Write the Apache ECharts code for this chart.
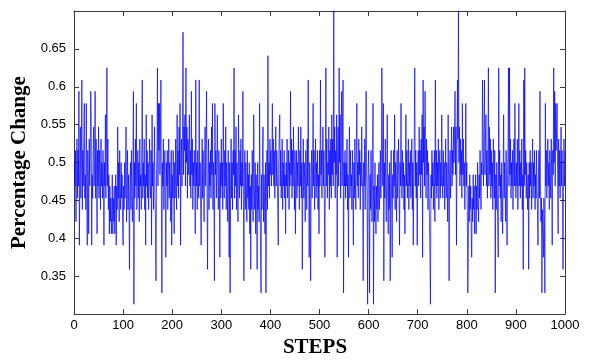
<!DOCTYPE html>
<html><head><meta charset="utf-8">
<script src="https://cdn.jsdelivr.net/npm/echarts@6/dist/echarts.min.js"></script>
<style>html,body{margin:0;padding:0;background:#fff}#c{width:589px;height:363px}</style>
</head><body><div id="c"></div>
<script>
const xAxisTitle = 'STEPS';
const yAxisTitle = 'Percentage Change';
const xTicks = [0,100,200,300,400,500,600,700,800,900,1000];
const yTicks = [0.35,0.4,0.45,0.5,0.55,0.6,0.65];
const percentageChange = [
.5,.469,.516,.422,.484,.531,.453,.516,.469,.594,.391,.484,.547,.453,.5,.609,.438,.516,.469,.531,.578,.453,.484,.438,.578,.469,.391,.516,.484,.406,.531,.469,.5,.594,.563,.391,.484,.453,.516,.547,.469,.5,.594,.453,.531,.484,.406,.516,.469,.547,
.453,.516,.484,.438,.531,.469,.5,.453,.516,.484,.391,.5,.469,.563,.453,.516,.625,.469,.531,.438,.484,.406,.469,.422,.453,.406,.438,.484,.406,.453,.422,.469,.406,.438,.484,.391,.469,.438,.547,.453,.5,.422,.516,.469,.438,.5,.453,.484,.422,.391,
.469,.438,.5,.453,.484,.547,.422,.469,.516,.438,.484,.453,.359,.469,.5,.438,.516,.469,.422,.484,.594,.313,.5,.453,.531,.469,.578,.438,.484,.516,.453,.5,.422,.531,.469,.484,.438,.516,.609,.453,.5,.469,.531,.438,.484,.391,.563,.469,.516,.453,
.5,.438,.484,.531,.469,.453,.516,.391,.563,.469,.5,.438,.484,.547,.453,.422,.344,.484,.516,.625,.469,.578,.516,.578,.484,.531,.609,.453,.328,.5,.469,.531,.438,.484,.516,.453,.375,.5,.469,.516,.438,.484,.531,.453,.5,.469,.422,.516,.391,.484,
.453,.516,.469,.406,.5,.453,.531,.484,.438,.563,.469,.516,.453,.547,.484,.578,.391,.5,.531,.469,.547,.672,.484,.547,.516,.563,.469,.625,.5,.547,.453,.531,.484,.516,.563,.469,.516,.453,.594,.484,.531,.438,.5,.469,.516,.484,.406,.609,.469,.5,
.438,.516,.484,.453,.609,.469,.5,.438,.391,.484,.531,.453,.516,.469,.422,.5,.547,.469,.516,.594,.453,.359,.484,.531,.438,.5,.469,.516,.453,.547,.484,.578,.438,.5,.469,.344,.578,.484,.516,.453,.5,.563,.469,.438,.516,.484,.375,.5,.453,.531,
.469,.5,.438,.578,.484,.453,.516,.469,.547,.438,.5,.469,.422,.516,.484,.375,.5,.328,.469,.531,.453,.5,.438,.516,.484,.625,.453,.516,.469,.547,.438,.5,.469,.422,.563,.484,.453,.516,.469,.531,.438,.5,.469,.594,.453,.344,.484,.516,.438,.5,
.469,.422,.516,.453,.484,.438,.5,.406,.469,.359,.484,.438,.516,.453,.422,.563,.469,.438,.5,.406,.484,.453,.359,.5,.438,.469,.422,.578,.453,.375,.328,.484,.438,.516,.547,.422,.484,.453,.406,.5,.328,.469,.516,.438,.641,.469,.5,.453,.531,.484,
.516,.469,.5,.578,.484,.531,.469,.516,.453,.5,.547,.469,.516,.484,.438,.391,.5,.531,.563,.469,.516,.453,.484,.531,.438,.5,.469,.516,.453,.484,.406,.5,.469,.531,.453,.484,.516,.438,.5,.469,.594,.484,.531,.453,.516,.469,.547,.484,.438,.516,
.406,.484,.516,.453,.5,.469,.547,.484,.438,.516,.469,.547,.453,.5,.359,.484,.531,.453,.5,.469,.422,.516,.484,.438,.531,.469,.609,.484,.375,.5,.453,.344,.484,.516,.453,.5,.578,.469,.516,.438,.484,.531,.453,.5,.469,.516,.438,.484,.406,.516,
.469,.609,.484,.516,.453,.5,.547,.469,.516,.438,.375,.5,.625,.469,.531,.453,.5,.484,.547,.438,.516,.469,.531,.453,.563,.484,.531,.469,.703,.5,.547,.453,.516,.484,.563,.375,.516,.547,.469,.625,.5,.563,.453,.531,.594,.469,.547,.609,.328,.5,
.469,.516,.453,.5,.469,.531,.438,.484,.375,.5,.547,.453,.516,.469,.484,.438,.516,.469,.391,.5,.453,.531,.484,.438,.516,.578,.469,.5,.453,.531,.484,.516,.438,.5,.469,.547,.484,.453,.344,.5,.469,.531,.438,.516,.594,.484,.453,.313,.484,.516,
.469,.328,.484,.438,.516,.453,.422,.484,.578,.313,.469,.422,.5,.438,.406,.469,.438,.484,.422,.453,.5,.438,.469,.516,.453,.484,.625,.516,.469,.578,.344,.5,.453,.531,.469,.422,.484,.563,.453,.406,.484,.438,.5,.344,.469,.516,.438,.375,.484,.453,
.516,.469,.563,.438,.5,.469,.422,.516,.453,.484,.531,.469,.391,.5,.469,.578,.484,.453,.516,.469,.5,.438,.484,.406,.5,.563,.469,.516,.453,.484,.531,.438,.5,.469,.516,.453,.484,.531,.438,.5,.391,.484,.531,.625,.469,.516,.453,.5,.391,.484,
.516,.469,.547,.484,.516,.453,.531,.484,.563,.375,.609,.5,.547,.469,.594,.5,.453,.531,.484,.516,.438,.5,.469,.422,.375,.313,.484,.453,.516,.469,.5,.438,.484,.516,.422,.609,.469,.516,.453,.5,.469,.531,.438,.484,.516,.453,.5,.469,.563,.484,
.453,.516,.469,.5,.438,.484,.531,.453,.5,.469,.422,.563,.469,.344,.484,.516,.453,.5,.547,.469,.516,.484,.547,.5,.531,.594,.484,.547,.391,.516,.609,.531,.703,.5,.547,.469,.531,.484,.516,.453,.578,.484,.531,.469,.5,.438,.484,.578,.469,.5,
.438,.328,.375,.469,.422,.484,.438,.469,.406,.375,.453,.422,.484,.438,.469,.406,.453,.484,.406,.469,.438,.5,.453,.422,.484,.453,.516,.469,.438,.5,.484,.609,.516,.469,.547,.609,.484,.531,.563,.469,.516,.453,.5,.625,.469,.547,.484,.531,.453,.516,
.469,.5,.438,.531,.484,.453,.516,.328,.484,.438,.5,.469,.422,.375,.625,.469,.516,.453,.484,.422,.5,.453,.406,.484,.563,.453,.5,.469,.422,.516,.453,.391,.484,.516,.625,.469,.625,.484,.531,.453,.5,.469,.516,.438,.484,.531,.469,.578,.484,.453,
.5,.469,.531,.438,.484,.578,.469,.516,.453,.5,.469,.531,.438,.484,.359,.609,.469,.625,.484,.516,.453,.5,.469,.438,.484,.359,.5,.453,.516,.469,.5,.438,.484,.531,.453,.5,.469,.516,.438,.484,.453,.516,.469,.438,.391,.484,.516,.453,.594,.469,
.422,.453,.328,.438,.406,.375,.453,.422,.328,.578,.469,.516,.453,.484,.531,.469,.5,.438,.516,.484,.453,.531,.469,.391,.516,.484,.625,.5,.594,.469,.578,.516,.547,.578,.484,.406,.531,.469,.516,.453,.5,.547,.469,.516,.438,.359,.484,.531,.469,.516
];

const chart = echarts.init(document.getElementById('c'), null, {renderer: 'canvas'});
const seriesData = percentageChange.map((v, i) => [i + 1, v]);
const axisColor = '#3a3a3a';
const labelFont = {color: '#000', fontFamily: 'Liberation Sans, Arial, sans-serif', fontSize: 13};
const titleFont = {color: '#000', fontFamily: 'Liberation Serif, Times New Roman, serif', fontWeight: 'bold', fontSize: 21};
const yLabel = v => yTicks.some(t => Math.abs(t - v) < 1e-6) ? String(+v.toFixed(2)) : '';
const xLabel = v => xTicks.indexOf(Math.round(v)) >= 0 ? String(Math.round(v)) : '';

chart.setOption({
  animation: false,
  backgroundColor: '#fff',
  grid: {left: 74, right: 24, top: 11, bottom: 43, containLabel: false},
  xAxis: [
    {type: 'value', min: 0, max: 1000, interval: 100, position: 'bottom',
     name: xAxisTitle, nameLocation: 'middle', nameGap: 21,
     nameTextStyle: Object.assign({padding: [0, 9, 0, 0]}, titleFont),
     axisLine: {onZero: false, lineStyle: {color: axisColor, width: 1}},
     axisTick: {inside: true, length: 5, lineStyle: {color: axisColor}},
     axisLabel: Object.assign({margin: 5, formatter: xLabel}, labelFont),
     splitLine: {show: false}},
    {type: 'value', min: 0, max: 1000, interval: 100, position: 'top',
     axisLine: {onZero: false, lineStyle: {color: axisColor, width: 1}},
     axisTick: {inside: true, length: 5, lineStyle: {color: axisColor}},
     axisLabel: {show: false}, splitLine: {show: false}}
  ],
  yAxis: [
    {type: 'value', min: 0.3, max: 0.7, interval: 0.05, position: 'left',
     name: yAxisTitle, nameLocation: 'middle', nameGap: 36, nameTextStyle: titleFont,
     axisLine: {show: true, onZero: false, lineStyle: {color: axisColor, width: 1}},
     axisTick: {show: true, inside: true, length: 5, lineStyle: {color: axisColor}},
     axisLabel: Object.assign({margin: 8, formatter: yLabel}, labelFont),
     splitLine: {show: false}},
    {type: 'value', min: 0.3, max: 0.7, interval: 0.05, position: 'right',
     axisLine: {show: true, onZero: false, lineStyle: {color: axisColor, width: 1}},
     axisTick: {show: true, inside: true, length: 5, lineStyle: {color: axisColor}},
     axisLabel: {show: false}, splitLine: {show: false}}
  ],
  series: [{
    type: 'line', xAxisIndex: 0, yAxisIndex: 0, data: seriesData,
    showSymbol: false, symbol: 'none', clip: true, sampling: null,
    lineStyle: {color: '#0000ff', width: 0.7}
  }]
});
</script>
</body></html>
